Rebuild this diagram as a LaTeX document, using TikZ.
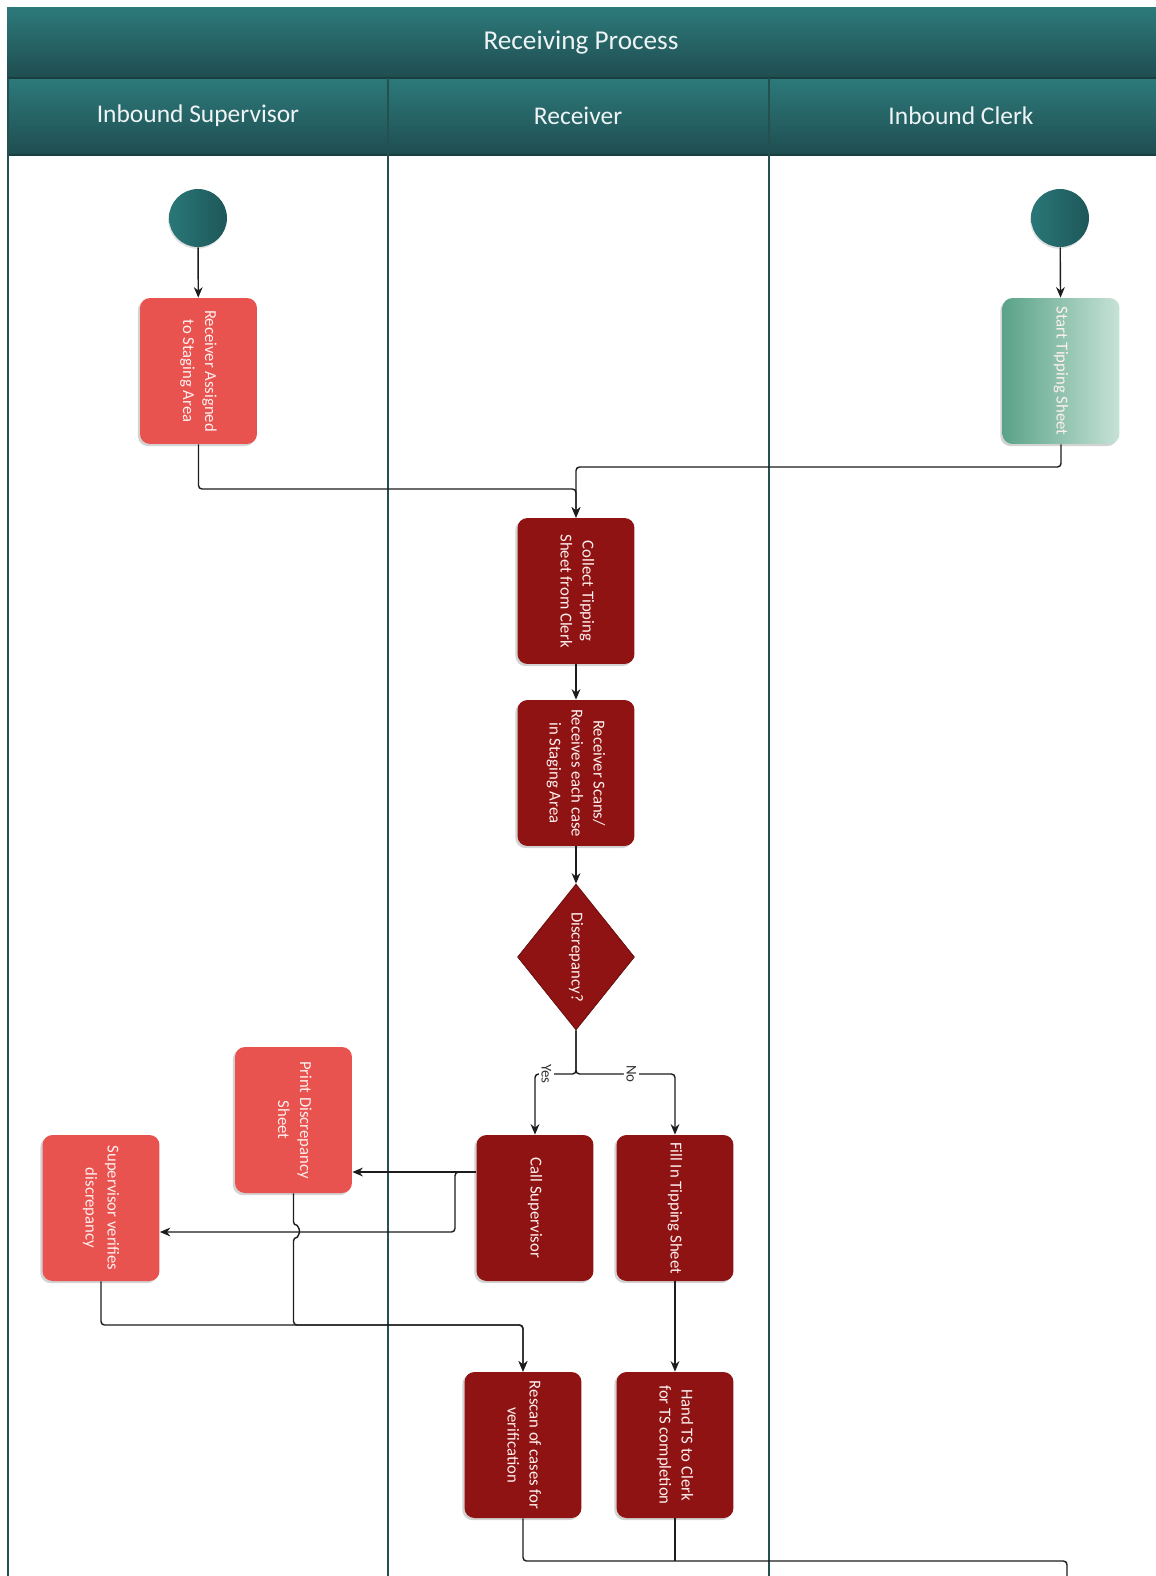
\documentclass[tikz,border=0pt]{standalone}
\usepackage{fontspec}
\setmainfont{Carlito}
\usetikzlibrary{shapes.geometric,arrows.meta,shadows,calc}

\definecolor{hdtop}{HTML}{2D7A7B}
\definecolor{hdbot}{HTML}{1F4D50}
\definecolor{laneline}{HTML}{24504F}
\definecolor{circa}{HTML}{2A7778}
\definecolor{circb}{HTML}{1D5759}
\definecolor{lightred}{HTML}{E9534F}
\definecolor{darkred}{HTML}{8F1313}
\definecolor{tipa}{HTML}{5AA388}
\definecolor{tipb}{HTML}{C6E2D6}
\definecolor{linec}{HTML}{1C1C1C}

\newcommand{\vtext}[1]{\rotatebox{-90}{\begin{tabular}{@{}c@{}}#1\end{tabular}}}

\tikzset{
  hdtext/.style={text=white!92!hdtop, font=\fontsize{14.5}{16}\selectfont},
  startc/.style={circle, minimum size=1.16cm, left color=circa, right color=circb,
    drop shadow={opacity=0.25, shadow xshift=-0.5pt, shadow yshift=-1pt}},
  task/.style={rounded corners=0.2cm, minimum width=2.34cm, minimum height=2.92cm,
    inner sep=2pt, text=white!94!red, font=\fontsize{9.5}{12.5}\selectfont,
    drop shadow={opacity=0.35, shadow xshift=-1.2pt, shadow yshift=-1.2pt}},
  light/.style={task, fill=lightred},
  dark/.style={task, fill=darkred},
  tipbox/.style={task, left color=tipa, right color=tipb},
  decision/.style={diamond, aspect=0.8, inner sep=0pt, fill=darkred, draw=darkred!70!black,
    minimum width=2.34cm, minimum height=2.92cm, text=white!94!red,
    font=\fontsize{9.5}{12.5}\selectfont},
  line/.style={draw=linec, line width=0.8pt, rounded corners=2pt},
  flow/.style={line, -{Stealth[length=6pt,width=5pt]}},
  branch/.style={fill=white, inner sep=1.5pt, text=black!80, font=\fontsize{8.5}{10}\selectfont},
  lane/.style={draw=laneline, line width=1.2pt}
}

\begin{document}
\begin{tikzpicture}[x=0.02cm,y=-0.02cm]
\useasboundingbox (0,0) rectangle (1156,1576);

% pool header and lanes
\shade[top color=hdtop, bottom color=hdbot] (7,7) rectangle (1156,78);
\foreach \a/\b in {7/388,388/769,769/1156}
  \shade[top color=hdtop, bottom color=hdbot] (\a,78) rectangle (\b,155);
\draw[draw=hdbot!80!black, line width=0.8pt] (7,78) -- (1156,78);
\draw[draw=hdbot!80!black, line width=0.8pt] (7,155) -- (1156,155);
\foreach \x in {8,388,769}
  \draw[lane] (\x,78) -- (\x,1576);

\node[hdtext, font=\fontsize{15.5}{17}\selectfont] (pool) at (581,42) {Receiving Process};
\node[hdtext] (sup) at (198,116) {Inbound Supervisor};
\node[hdtext] (rcv) at (578,116) {Receiver};
\node[hdtext] (clk) at (961,116) {Inbound Clerk};

% steps
\node[startc] (s1) at (198,218) {};
\node[startc] (s2) at (1060,218) {};
\node[light] (assign) at (198.5,371) {\vtext{Receiver Assigned\\to Staging Area}};
\node[tipbox] (tipstart) at (1061,371) {\vtext{Start Tipping Sheet}};
\node[dark] (collect) at (576,591) {\vtext{Collect Tipping\\Sheet from Clerk}};
\node[dark] (scan) at (576,773) {\vtext{Receiver Scans/\\Receives each case\\in Staging Area}};
\node[decision] (disc) at (576,957) {\rotatebox{-90}{Discrepancy?}};
\node[dark] (callsup) at (535,1208) {\vtext{Call Supervisor}};
\node[dark] (fillts) at (675,1208) {\vtext{Fill In Tipping Sheet}};
\node[light] (printdisc) at (293.5,1120) {\vtext{Print Discrepancy\\Sheet}};
\node[light] (verify) at (101,1208) {\vtext{Supervisor verifies\\discrepancy}};
\node[dark] (rescan) at (523,1445) {\vtext{Rescan of cases for\\verification}};
\node[dark] (handts) at (675,1445) {\vtext{Hand TS to Clerk\\for TS completion}};

% connectors
\coordinate (m1) at (576,489);
\coordinate (m2) at (576,467);
\coordinate (split) at (576,1074);
\coordinate (cs) at ($(callsup.west)+(0,-36)$);
\coordinate (j3) at (455,1232);
\coordinate (j4) at (523,1325);
\coordinate (j5) at (1067,1561);
\coordinate (off) at (1067,1610);

\draw[flow] (s1) -- (assign);
\draw[flow] (s2) -- (tipstart);
\draw[flow] (assign.south) |- (m1) -- (collect.north);
\draw[flow] (tipstart.south) |- (m2) -- (collect.north);
\draw[flow] (collect) -- (scan);
\draw[flow] (scan) -- (disc);
\draw[flow] (disc.south) -- (split) -| node[branch, pos=0.36] {\rotatebox{-90}{Yes}} (callsup.north);
\draw[flow] (disc.south) -- (split) -| node[branch, pos=0.28] {\rotatebox{-90}{No}} (fillts.north);
\draw[flow] (fillts) -- (handts);
\draw[flow] (cs) -- (printdisc.east |- cs);
\draw[flow] (cs) -| (j3) -- (verify.east |- j3);
\draw[flow] (printdisc.south) -- ++(0,32) arc (-90:90:6) -- (printdisc.south |- j4) -- (j4) -- (rescan.north);
\draw[flow] (verify.south) |- (j4) -- (rescan.north);
\draw[line] (rescan.south) |- (j5) -- (off);
\draw[line] (handts.south) -- (handts.south |- j5);

\end{tikzpicture}
\end{document}
